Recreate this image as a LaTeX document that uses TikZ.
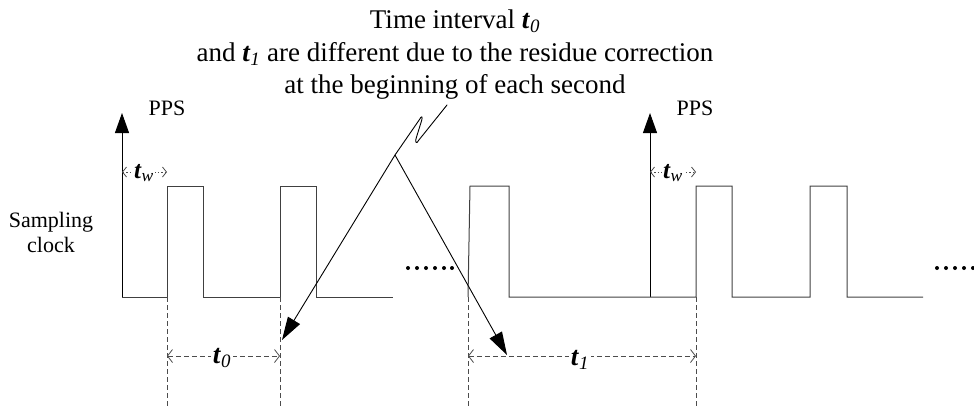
\documentclass[tikz,border=0pt]{standalone}
\usepackage{fontspec}
\setmainfont{Liberation Serif}
\usetikzlibrary{arrows.meta}
\newcommand\tvar[1]{\textbf{\textit{t}}\textsubscript{\textit{#1}}}
\tikzset{
  wave/.style={line width=1pt, draw=black!75, line join=miter},
  ppsarrow/.style={line width=1pt, -{Triangle[length=20pt,width=14pt]}},
  callarrow/.style={line width=0.9pt, -{Triangle[length=23pt,width=14pt]}},
  guide/.style={line width=0.8pt, draw=black!70, dash pattern=on 5pt off 3pt},
  dimarrow/.style={guide, {Straight Barb[length=5pt,width=13pt]}-{Straight Barb[length=5pt,width=13pt]}},
  twarrow/.style={line width=0.8pt, draw=black!70, dash pattern=on 1.5pt off 2pt, {Straight Barb[length=4pt,width=10pt]}-{Straight Barb[length=4pt,width=10pt]}},
  notetext/.style={font=\fontsize{27}{32.5}\selectfont, align=center, inner sep=0pt},
  sidetext/.style={font=\fontsize{22}{25}\selectfont, align=center, inner sep=0pt},
  dimlabel/.style={font=\fontsize{27}{30}\selectfont, fill=white, inner sep=2pt},
  twlabel/.style={font=\fontsize{25}{26}\selectfont, fill=white, inner sep=1pt},
  dot/.style={fill=black, draw=none},
}
\begin{document}
\begin{tikzpicture}[x=1pt,y=-1pt]
\useasboundingbox (0,0) rectangle (974,408);

% callout text
\node[notetext] (note) at (455,55) {Time interval \tvar{0}\\and \tvar{1} are different due to the residue correction\\at the beginning of each second};

% side labels
\node[sidetext] (pps1) at (167,108) {PPS};
\node[sidetext] (pps2) at (695,108) {PPS};
\node[sidetext] (samp) at (51,232) {Sampling\\clock};

% PPS arrows
\coordinate (p1b) at (122,297); \coordinate (p1t) at (122,113);
\coordinate (p2b) at (650,297); \coordinate (p2t) at (650,113);
\draw[ppsarrow] (p1b) -- (p1t);
\draw[ppsarrow] (p2b) -- (p2t);

% waveforms
\draw[wave] (122,297) -- (167,297) -- (167,186) -- (203,186) -- (203,297) -- (280,297) -- (280,186) -- (316,186) -- (316,297) -- (393,297);
\draw[wave] (468,297) -- (470,186) -- (509,186) -- (509,297) -- (696,297) -- (696,186) -- (732,186) -- (732,297) -- (810,297) -- (810,186) -- (847,186) -- (847,297) -- (923,297);

% continuation dots
\foreach \x in {408,417,426,435,444,452} \fill[dot] (\x,268) circle (2);
\foreach \x in {937,946,955,964,973} \fill[dot] (\x,268) circle (2);

% dashed guides
\coordinate (g1t) at (167,297); \coordinate (g1b) at (167,408);
\coordinate (g2t) at (280,297); \coordinate (g2b) at (280,408);
\coordinate (g3t) at (468,297); \coordinate (g3b) at (468,408);
\coordinate (g4t) at (696,297); \coordinate (g4b) at (696,408);
\draw[guide] (g1t) -- (g1b);
\draw[guide] (g2t) -- (g2b);
\draw[guide] (g3t) -- (g3b);
\draw[guide] (g4t) -- (g4b);

% t0 and t1 dimensions
\coordinate (d0a) at (167,356); \coordinate (d0b) at (280,356);
\coordinate (d1a) at (468,356); \coordinate (d1b) at (696,356);
\draw[dimarrow] (d0a) -- (d0b);
\draw[dimarrow] (d1a) -- (d1b);
\node[dimlabel] (t0) at (222,358) {\tvar{0}};
\node[dimlabel] (t1) at (580,360) {\tvar{1}};

% tw dimensions
\coordinate (w1a) at (122,172); \coordinate (w1b) at (167,172);
\coordinate (w2a) at (650,172); \coordinate (w2b) at (696,172);
\draw[twarrow] (w1a) -- (w1b);
\draw[twarrow] (w2a) -- (w2b);
\node[twlabel] (tw1) at (144,173) {\tvar{w}};
\node[twlabel] (tw2) at (673,173) {\tvar{w}};

% callout leader
\coordinate (top) at (447,105);
\coordinate (J) at (395,155);
\coordinate (a0) at (282,340);
\coordinate (a1) at (507,355);
\draw[line width=0.9pt, line cap=round, line join=round] (top) -- (418.5,140.5) .. controls (416.5,145) and (414.5,142) .. (416.5,137) -- (421.5,121) .. controls (423,116) and (421.5,115.5) .. (419.5,119.5) -- (J);
\draw[callarrow] (J) -- (a0);
\draw[callarrow] (J) -- (a1);
\end{tikzpicture}
\end{document}
